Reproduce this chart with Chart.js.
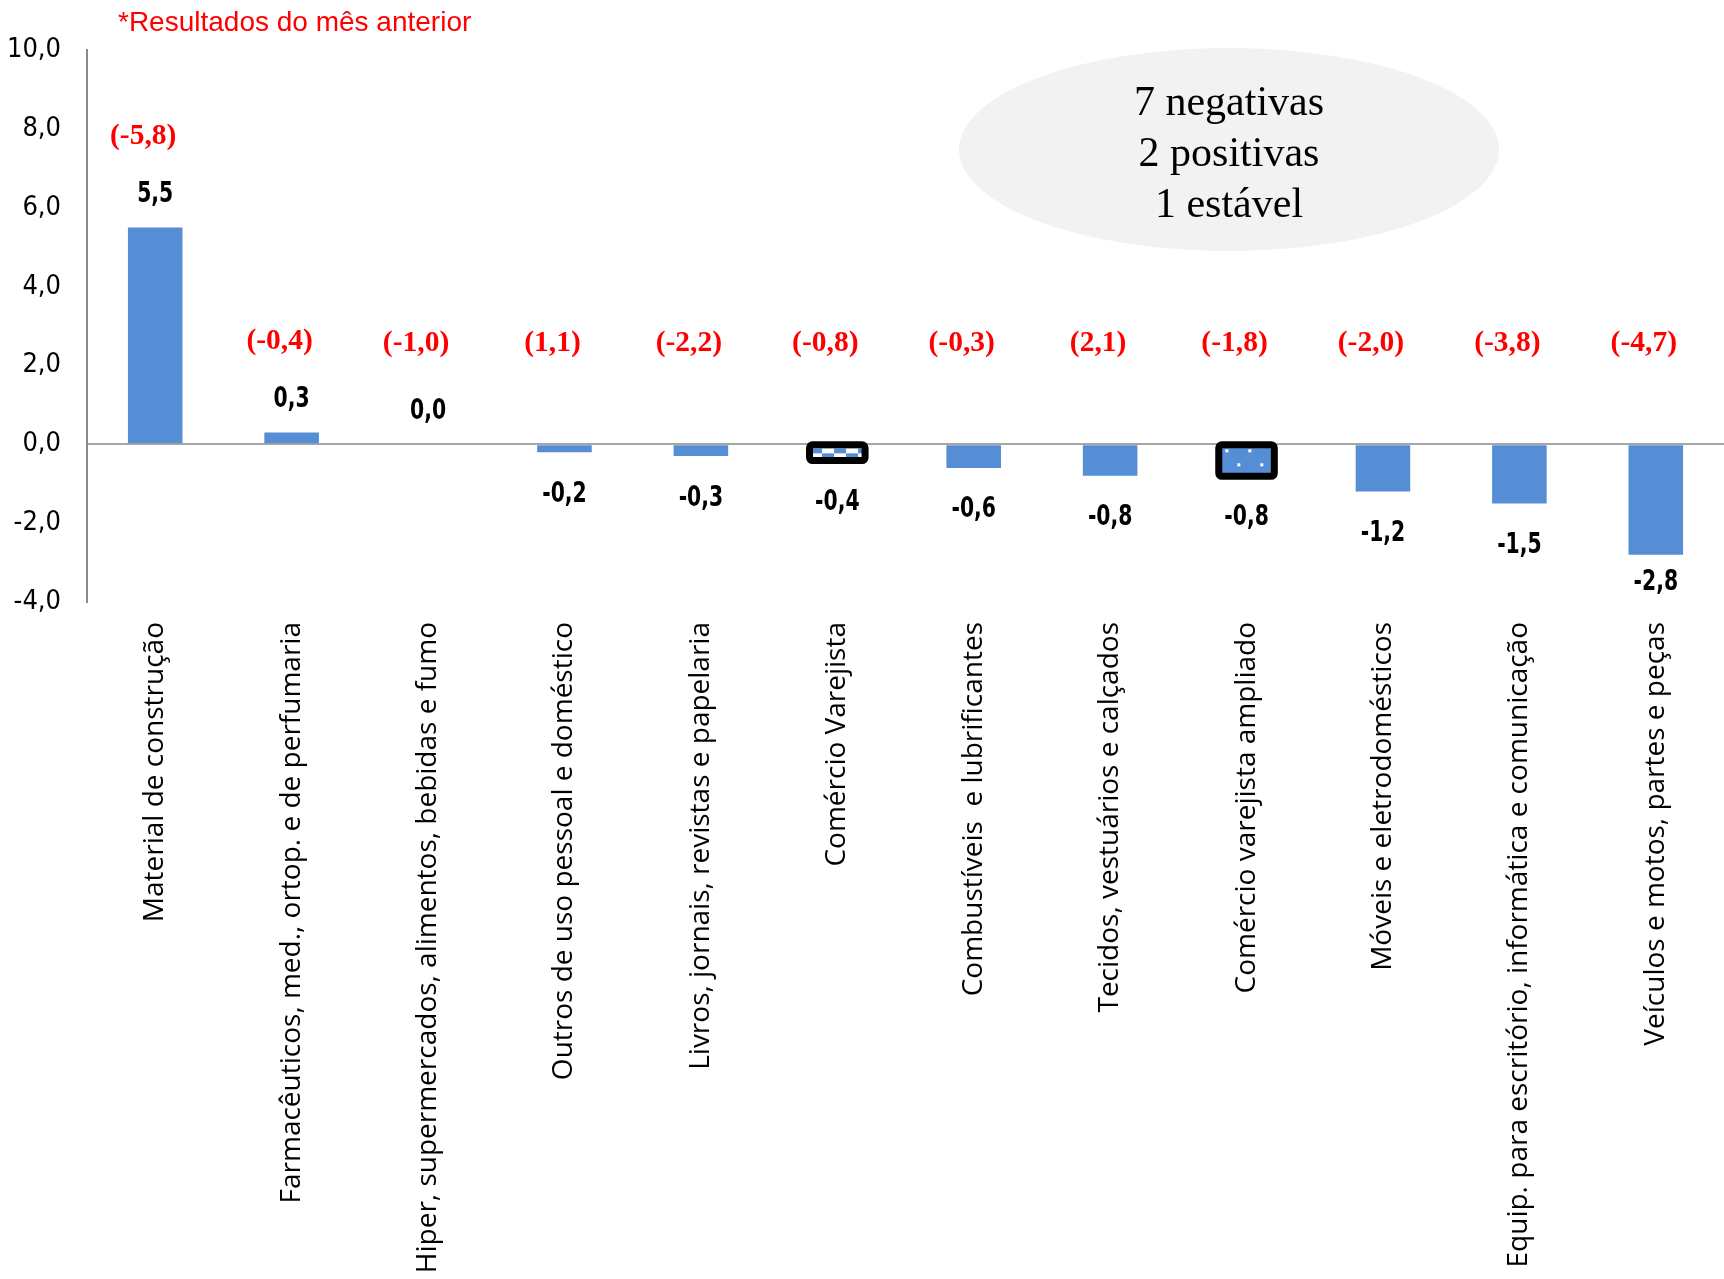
<!DOCTYPE html>
<html>
<head>
<meta charset="utf-8">
<script src="https://cdn.jsdelivr.net/npm/chart.js@4.4.0/dist/chart.umd.min.js"></script>
<style>
html,body{margin:0;padding:0;background:#ffffff;overflow:hidden}
#wrap{width:1724px;height:1279px;position:relative}
canvas{display:block}
</style>
</head>
<body>
<div id="wrap"><canvas id="c" width="1724" height="1279"></canvas></div>
<script>
// ---------- DATA ----------
const categories = [
  'Material de construção',
  'Farmacêuticos, med., ortop. e de perfumaria',
  'Hiper, supermercados, alimentos, bebidas e fumo',
  'Outros de uso pessoal e doméstico',
  'Livros, jornais, revistas e papelaria',
  'Comércio Varejista',
  'Combustíveis  e lubrificantes',
  'Tecidos, vestuários e calçados',
  'Comércio varejista ampliado',
  'Móveis e eletrodomésticos',
  'Equip. para escritório, informática e comunicação',
  'Veículos e motos, partes e peças'
];
const currentValues = [5.5, 0.3, 0.0, -0.2, -0.3, -0.4, -0.6, -0.8, -0.8, -1.2, -1.5, -2.8];
const previousMonthValues = [-5.8, -0.4, -1.0, 1.1, -2.2, -0.8, -0.3, 2.1, -1.8, -2.0, -3.8, -4.7];
const yTickValues = [-4, -2, 0, 2, 4, 6, 8, 10];
const yTickLabels = ['-4,0', '-2,0', '0,0', '2,0', '4,0', '6,0', '8,0', '10,0'];
const summaryLines = ['7 negativas', '2 positivas', '1 estável'];
const noteText = '*Resultados do mês anterior';
const checkerCategory = 'Comércio Varejista';
const dottedCategory = 'Comércio varejista ampliado';

// ---------- STYLE ----------
const BLUE = '#558ed5';
const fmt = v => v.toFixed(1).replace('.', ',');
const NARROW = '"Liberation Sans Narrow", "Arial Narrow", "DejaVu Sans Condensed", "DejaVu Sans", sans-serif';

function makeChecker() {
  const c = document.createElement('canvas');
  c.width = 24; c.height = 10;
  const g = c.getContext('2d');
  g.fillStyle = BLUE; g.fillRect(0, 0, 24, 10);
  g.fillStyle = '#ffffff';
  g.fillRect(12, 0, 12, 5);
  g.fillRect(0, 5, 12, 5);
  return g.createPattern(c, 'repeat');
}
function makeDots() {
  const c = document.createElement('canvas');
  c.width = 23; c.height = 28;
  const g = c.getContext('2d');
  g.fillStyle = BLUE; g.fillRect(0, 0, 23, 28);
  g.fillStyle = '#ffffff';
  g.fillRect(6, 1, 3, 3);
  g.fillRect(18, 15, 3, 3);
  return g.createPattern(c, 'repeat');
}

function draw() {
  const checker = makeChecker();
  const dots = makeDots();
  const colors = categories.map(c => c === checkerCategory ? checker : (c === dottedCategory ? dots : BLUE));

  const overlay = {
    id: 'overlay',
    beforeDatasetsDraw(chart) {
      const meta = chart.getDatasetMeta(0);
      categories.forEach((c, i) => {
        const el = meta.data[i];
        const p = el.getProps(['x', 'y', 'base', 'width'], true);
        const left = p.x - p.width / 2;
        const top = Math.min(p.y, p.base);
        if (c === checkerCategory && checker.setTransform) {
          checker.setTransform(new DOMMatrix().translate(left, top + 3));
        }
        if (c === dottedCategory && dots.setTransform) {
          dots.setTransform(new DOMMatrix().translate(left, top + 3));
        }
      });
    },
    afterDatasetsDraw(chart) {
      const ctx = chart.ctx;
      const meta = chart.getDatasetMeta(0);
      const ys = chart.scales.y;
      const area = chart.chartArea;
      ctx.save();
      // highlighted borders
      categories.forEach((c, i) => {
        if (c !== checkerCategory && c !== dottedCategory) return;
        const p = meta.data[i].getProps(['x', 'y', 'base', 'width'], true);
        const top = Math.min(p.y, p.base), bot = Math.max(p.y, p.base);
        const e = 0.5;
        ctx.beginPath();
        ctx.lineWidth = 7;
        ctx.strokeStyle = '#000000';
        ctx.lineJoin = 'round';
        ctx.roundRect(p.x - p.width / 2 - e, top - e, p.width + 2 * e, bot - top + 2 * e, 3);
        ctx.stroke();
      });
      // value labels
      ctx.textAlign = 'center';
      ctx.textBaseline = 'middle';
      meta.data.forEach((el, i) => {
        const v = currentValues[i];
        const p = el.getProps(['x', 'y'], true);
        let ly = v >= 0 ? p.y - 33 : p.y + 42;
        ly = Math.min(ly, area.bottom - 20);
        ctx.save();
        ctx.translate(p.x, ly);
        ctx.scale(0.78, 1);
        ctx.fillStyle = '#000000';
        ctx.font = 'bold 29px ' + NARROW;
        ctx.fillText(fmt(v), 0, 0);
        ctx.restore();
        // previous month (red)
        ctx.fillStyle = '#ff0000';
        ctx.font = 'bold 29.5px "Liberation Serif", "Times New Roman", serif';
        const ry = ys.getPixelForValue(Math.max(v, 0)) - (v > 0 ? 91 : 101);
        ctx.fillText('(' + fmt(previousMonthValues[i]) + ')', p.x - 12, ry);
      });
      ctx.restore();
    },
    afterDraw(chart) {
      const ctx = chart.ctx;
      ctx.save();
      // summary ellipse
      ctx.beginPath();
      ctx.ellipse(1229, 149.5, 270, 101.5, 0, 0, Math.PI * 2);
      ctx.fillStyle = '#f2f2f2';
      ctx.fill();
      ctx.fillStyle = '#000000';
      ctx.font = '42px "Liberation Serif", "Times New Roman", serif';
      ctx.textAlign = 'center';
      ctx.textBaseline = 'middle';
      summaryLines.forEach((t, i) => ctx.fillText(t, 1229, 103.5 + i * 51));
      // note
      ctx.fillStyle = '#ff0000';
      ctx.font = '28px "Liberation Sans", Arial, sans-serif';
      ctx.textAlign = 'left';
      ctx.fillText(noteText, 118, 23);
      ctx.restore();
    }
  };

  new Chart(document.getElementById('c'), {
    type: 'bar',
    data: {
      labels: categories,
      datasets: [{
        data: currentValues,
        backgroundColor: colors,
        borderWidth: 0,
        barPercentage: 0.4,
        categoryPercentage: 1.0
      }]
    },
    options: {
      responsive: false,
      animation: false,
      devicePixelRatio: 1,
      layout: { padding: { top: 50, left: 0, right: 0, bottom: 0 } },
      plugins: { legend: { display: false }, tooltip: { enabled: false }, title: { display: false } },
      scales: {
        x: {
          grid: { display: false, drawTicks: false },
          border: { display: false },
          ticks: {
            autoSkip: false, maxRotation: 90, minRotation: 90, padding: 20,
            color: '#000000',
            font: { family: '"Open Sans", "Noto Sans", sans-serif', size: 28 }
          },
          afterFit(scale) { scale.height = 677; }
        },
        y: {
          min: -4, max: 10,
          afterBuildTicks(scale) { scale.ticks = yTickValues.map(v => ({ value: v })); },
          grid: {
            drawTicks: false,
            color: c => (c.tick && c.tick.value === 0) ? '#a6a6a6' : 'rgba(0,0,0,0)',
            lineWidth: 2
          },
          border: { display: true, color: '#8c8c8c', width: 2 },
          ticks: {
            padding: 26,
            color: '#000000',
            font: { family: NARROW, size: 27 },
            callback: (v) => { const k = yTickValues.indexOf(v); return k >= 0 ? yTickLabels[k] : ''; }
          },
          afterFit(scale) { scale.width = 87; }
        }
      }
    },
    plugins: [overlay]
  });
}

const fontsToLoad = [
  '28px "Open Sans"',
  '27px "DejaVu Sans Condensed"',
  'bold 29px "DejaVu Sans Condensed"',
  'bold 28px "Liberation Serif"',
  '42px "Liberation Serif"',
  '28px "Liberation Sans"'
];
let drawn = false;
function go() { if (!drawn) { drawn = true; draw(); } }
if (document.fonts && document.fonts.load) {
  Promise.all(fontsToLoad.map(f => document.fonts.load(f).catch(() => null))).then(go, go);
  setTimeout(go, 1500);
} else {
  go();
}
</script>
</body>
</html>
